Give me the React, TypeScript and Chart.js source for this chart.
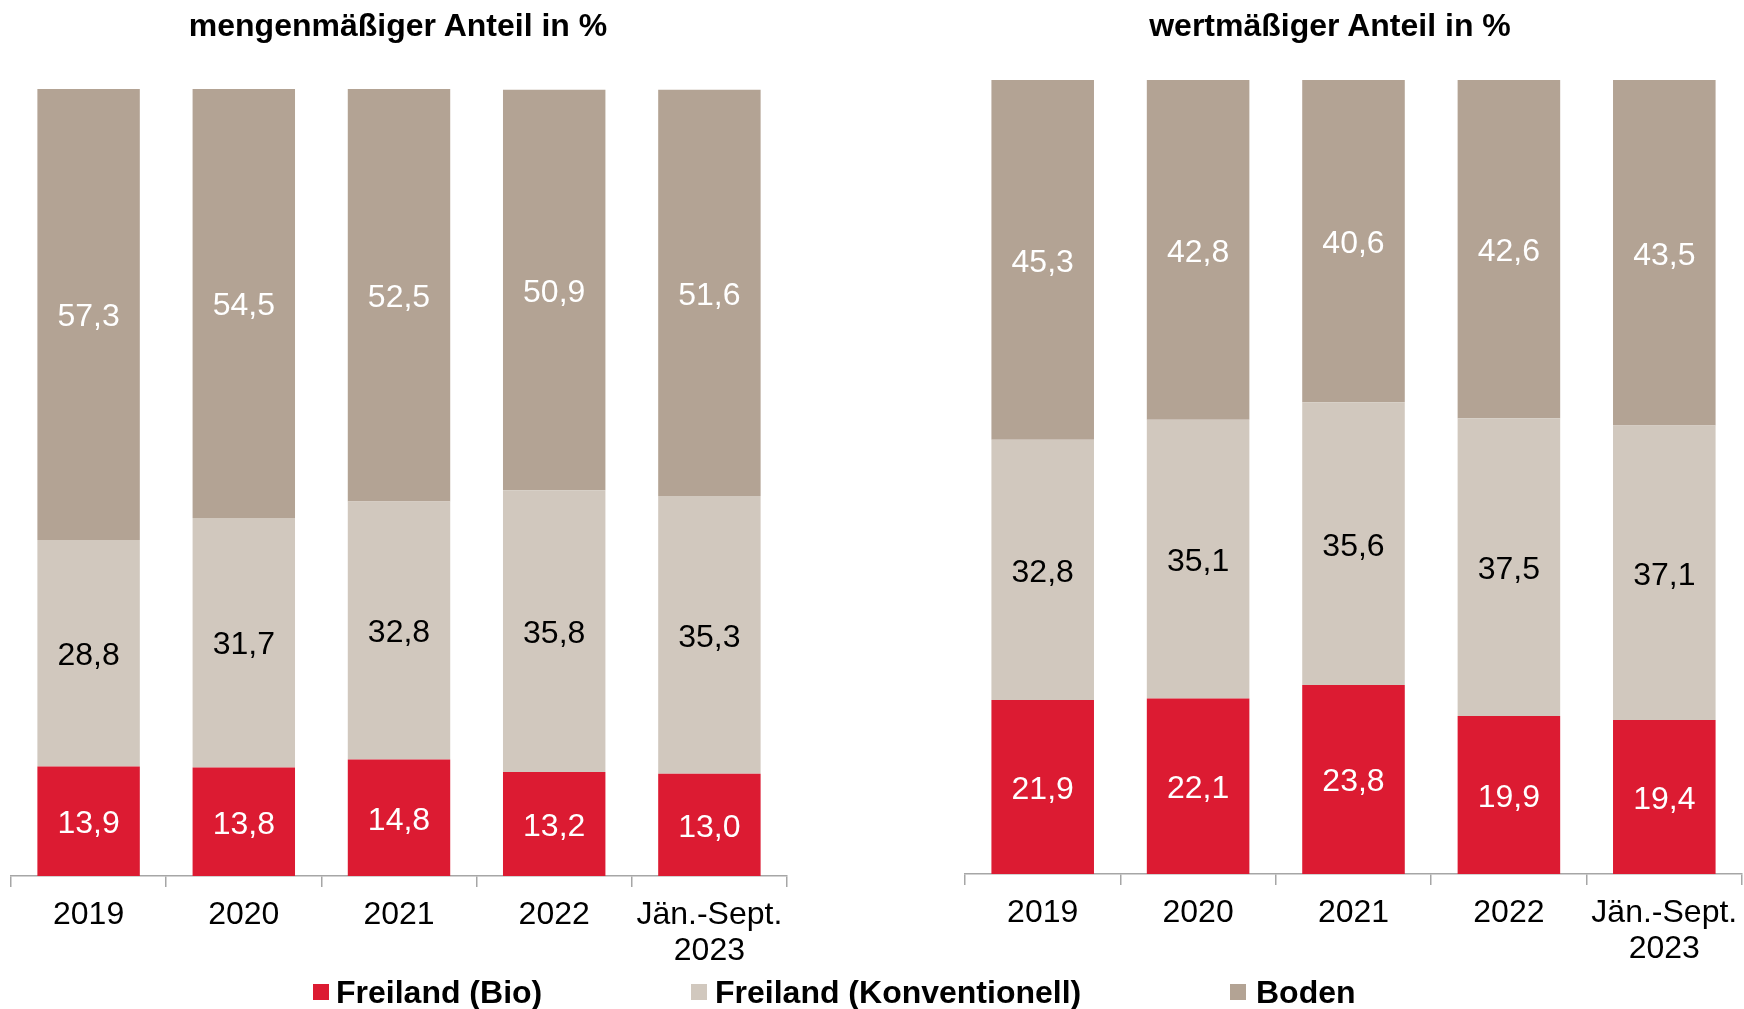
import React, { useEffect, useRef } from "react";
import { Chart, registerables } from "chart.js";

Chart.register(...registerables);

const categories: (string | string[])[] = ["2019", "2020", "2021", "2022", ["Jän.-Sept.", "2023"]];
const seriesNames = ["Freiland (Bio)", "Freiland (Konventionell)", "Boden"];
const seriesColors = ["#DC1B32", "#D1C8BE", "#B3A394"];
const labelColors = ["#FFFFFF", "#000000", "#FFFFFF"];

const mengeBio = [13.9, 13.8, 14.8, 13.2, 13.0];
const mengeKonv = [28.8, 31.7, 32.8, 35.8, 35.3];
const mengeBoden = [57.3, 54.5, 52.5, 50.9, 51.6];

const wertBio = [21.9, 22.1, 23.8, 19.9, 19.4];
const wertKonv = [32.8, 35.1, 35.6, 37.5, 37.1];
const wertBoden = [45.3, 42.8, 40.6, 42.6, 43.5];

const titleLeft = "mengenmäßiger Anteil in %";
const titleRight = "wertmäßiger Anteil in %";

const FONT = "'Liberation Sans', Arial, sans-serif";

const valueLabels = {
  id: "valueLabels",
  afterDatasetsDraw(chart: any) {
    const ctx = chart.ctx;
    ctx.save();
    ctx.font = `32px ${FONT}`;
    ctx.textAlign = "center";
    ctx.textBaseline = "middle";
    chart.data.datasets.forEach((ds: any, di: number) => {
      const meta = chart.getDatasetMeta(di);
      meta.data.forEach((el: any, i: number) => {
        const v = ds.data[i];
        const cy = (el.y + el.base) / 2 + 3;
        ctx.fillStyle = labelColors[di];
        ctx.fillText(v.toFixed(1).replace(".", ","), el.x, cy);
      });
    });
    ctx.restore();
  },
};

function makeConfig(data: number[][], pad: { left: number; right: number; top: number; bottom: number }) {
  return {
    type: "bar" as const,
    data: {
      labels: categories,
      datasets: data.map((d, i) => ({
        label: seriesNames[i],
        data: d,
        backgroundColor: seriesColors[i],
        borderWidth: 0,
        barPercentage: 0.66,
        categoryPercentage: 1,
      })),
    },
    options: {
      animation: false,
      responsive: false,
      maintainAspectRatio: false,
      layout: { padding: pad },
      plugins: {
        legend: { display: false },
        title: { display: false },
        tooltip: { enabled: false },
      },
      scales: {
        x: {
          stacked: true,
          offset: true,
          afterFit: (scale: any) => {
            scale.height = 100;
            scale.paddingLeft = 0;
            scale.paddingRight = 0;
          },
          border: { display: true, color: "#A6A6A6", width: 1.5 },
          grid: {
            display: true,
            offset: true,
            drawOnChartArea: false,
            drawTicks: true,
            tickLength: 11,
            color: "#A6A6A6",
            lineWidth: 1.5,
          },
          ticks: {
            color: "#000000",
            font: { family: FONT, size: 32, lineHeight: 1.13 },
            padding: 10,
            maxRotation: 0,
            autoSkip: false,
          },
        },
        y: {
          stacked: true,
          display: false,
          min: 0,
          max: 100,
        },
      },
    },
    plugins: [valueLabels],
  };
}

export default function App() {
  const leftRef = useRef<HTMLCanvasElement>(null);
  const rightRef = useRef<HTMLCanvasElement>(null);

  useEffect(() => {
    const c1 = new Chart(
      leftRef.current as HTMLCanvasElement,
      makeConfig([mengeBio, mengeKonv, mengeBoden], { left: 11, right: 13, top: 89, bottom: 33 }) as any
    );
    const c2 = new Chart(
      rightRef.current as HTMLCanvasElement,
      makeConfig([wertBio, wertKonv, wertBoden], { left: 93, right: 2, top: 80, bottom: 35 }) as any
    );
    return () => {
      c1.destroy();
      c2.destroy();
    };
  }, []);

  const titleStyle = (cx: number): React.CSSProperties => ({
    position: "absolute",
    left: cx - 300,
    width: 600,
    top: 7,
    lineHeight: "36px",
    textAlign: "center",
    fontFamily: FONT,
    fontWeight: "bold",
    fontSize: 32,
    color: "#000",
  });

  const legendItems = [
    { box: 313, text: 336 },
    { box: 691, text: 715 },
    { box: 1230, text: 1256 },
  ];

  return (
    <div style={{ position: "absolute", left: 0, top: 0, width: 1744, height: 1009, background: "#fff", overflow: "hidden" }}>
      <canvas ref={leftRef} width={800} height={1009} style={{ position: "absolute", left: 0, top: 0, width: 800, height: 1009 }} />
      <canvas ref={rightRef} width={872} height={1009} style={{ position: "absolute", left: 872, top: 0, width: 872, height: 1009 }} />
      <div style={titleStyle(398)}>{titleLeft}</div>
      <div style={titleStyle(1330)}>{titleRight}</div>
      {legendItems.map((it, i) => (
        <React.Fragment key={i}>
          <div style={{ position: "absolute", left: it.box, top: 984, width: 16, height: 16, background: seriesColors[i] }} />
          <div
            style={{
              position: "absolute",
              left: it.text,
              top: 974,
              lineHeight: "36px",
              fontFamily: FONT,
              fontWeight: "bold",
              fontSize: 32,
              color: "#000",
              whiteSpace: "nowrap",
            }}
          >
            {seriesNames[i]}
          </div>
        </React.Fragment>
      ))}
    </div>
  );
}
